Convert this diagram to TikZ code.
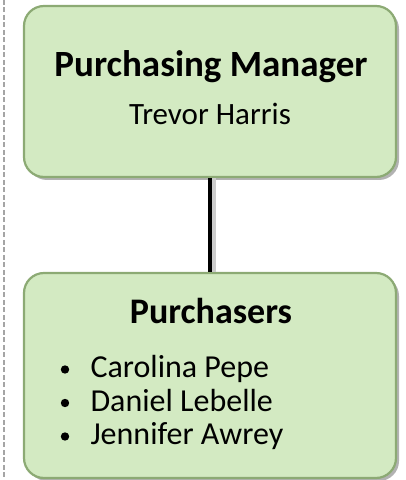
\documentclass[tikz,border=0pt]{standalone}
\usepackage{fontspec}
\setmainfont{Carlito}
\usepackage{tikz}
\usetikzlibrary{positioning,shadows,calc}
\definecolor{boxfill}{RGB}{211,234,194}
\definecolor{boxedge}{RGB}{140,170,116}
\definecolor{guidegray}{RGB}{165,165,165}

\begin{document}
\begin{tikzpicture}[x=1pt,y=1pt,
    box/.style={draw=boxedge, line width=2.2pt, fill=boxfill, rounded corners=20pt,
        minimum width=372pt, inner sep=0pt,
        drop shadow={shadow xshift=3pt, shadow yshift=-3pt, fill=black, opacity=0.3}},
    title/.style={font=\bfseries\fontsize{37}{44}\selectfont, anchor=base},
    entry/.style={font=\fontsize{32}{38}\selectfont, anchor=base west}]
    \useasboundingbox (0,0) rectangle (405,480);

    % dashed guide on the left
    \draw[guidegray, line width=2.4pt, dash pattern=on 5pt off 2.5pt] (4,480) -- (4,0);

    % Manager
    \node[box, minimum height=171pt] (manager) at (210,388.5) {};
    \node[title] (mtitle) at (211,403) {Purchasing Manager};
    \node[font=\fontsize{31}{36}\selectfont, anchor=base] (mname) at (210,355) {Trevor Harris};

    % Purchasers
    \node[box, minimum height=205pt] (team) at (210,104.5) {};
    \node[title, font=\bfseries\fontsize{36}{42}\selectfont] (ttitle) at (211,156) {Purchasers};
    \foreach \who [count=\i] in {Carolina Pepe, Daniel Lebelle, Jennifer Awrey} {
        \node[entry] (member\i) at (87,135.5-33.5*\i) {\who};
        \fill (65,144-33.5*\i) circle (4.2);
    }

    % link
    \draw[black!20, line width=4pt] ([xshift=4pt]manager.south) -- ([xshift=4pt]team.north);
    \draw[line width=4pt] (manager.south) -- (team.north);
\end{tikzpicture}
\end{document}
